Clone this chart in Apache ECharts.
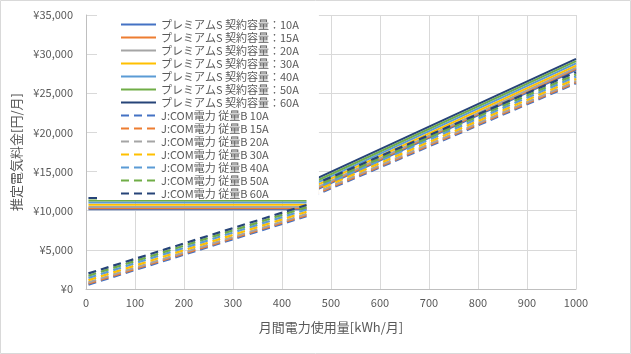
<!DOCTYPE html>
<html><head><meta charset="utf-8">
<script src="https://cdn.jsdelivr.net/npm/echarts@6/dist/echarts.min.js"></script>
<style>html,body{margin:0;padding:0;background:#fff}#c{width:631px;height:354px}</style>
</head><body><div id="c"></div>
<script>
// x positions (kWh) of the points: first segment, break, second segment
const xPoints = [5, 450, 455, 460, 1000];
const amps = ['10A', '15A', '20A', '30A', '40A', '50A', '60A'];
const xTicks = [0, 100, 200, 300, 400, 500, 600, 700, 800, 900, 1000];
const yTicks = [0, 5000, 10000, 15000, 20000, 25000, 30000, 35000];

// プレミアムS (yen/month) at xPoints (null = gap)
const premium10A = [10180, 10180, null, 12370, 27970];
const premium15A = [10320, 10320, null, 12510, 28110];
const premium20A = [10470, 10470, null, 12660, 28260];
const premium30A = [10750, 10750, null, 12940, 28540];
const premium40A = [11040, 11040, null, 13230, 28830];
const premium50A = [11320, 11320, null, 13510, 29110];
const premium60A = [11610, 11610, null, 13800, 29400];

// J:COM電力 従量B (yen/month) at xPoints
const jcom10A = [560, 9300, null, 11770, 26270];
const jcom15A = [700, 9440, null, 11910, 26410];
const jcom20A = [850, 9590, null, 12060, 26560];
const jcom30A = [1130, 9870, null, 12340, 26840];
const jcom40A = [1420, 10160, null, 12630, 27130];
const jcom50A = [1700, 10440, null, 12910, 27410];
const jcom60A = [1990, 10730, null, 13200, 27700];

const colors = ['#4472C4', '#ED7D31', '#A5A5A5', '#FFC000', '#5B9BD5', '#70AD47', '#264478'];
const premiumSets = [premium10A, premium15A, premium20A, premium30A, premium40A, premium50A, premium60A];
const jcomSets = [jcom10A, jcom15A, jcom20A, jcom30A, jcom40A, jcom50A, jcom60A];

function toData(vals) {
  return xPoints.map((x, i) => [x, vals[i] === null ? '-' : vals[i]]);
}

const series = [];
amps.forEach((a, i) => {
  series.push({
    name: 'プレミアムS 契約容量：' + a, type: 'line', data: toData(premiumSets[i]),
    symbol: 'none', connectNulls: false, color: colors[i],
    lineStyle: { width: 2, color: colors[i] }, emphasis: { disabled: true }
  });
});
amps.forEach((a, i) => {
  series.push({
    name: 'J:COM電力 従量B ' + a, type: 'line', data: toData(jcomSets[i]),
    symbol: 'none', connectNulls: false, color: colors[i],
    lineStyle: { width: 2.2, color: colors[i], type: [8, 5] }, emphasis: { disabled: true }
  });
});

const font = '"Noto Sans CJK JP", "Noto Sans", sans-serif';
const chart = echarts.init(document.getElementById('c'), null, { renderer: 'canvas' });
chart.setOption({
  animation: false,
  textStyle: { fontFamily: font },
  grid: { left: 86, right: 55, top: 15, bottom: 65, containLabel: false },
  graphic: [{ type: 'rect', shape: { x: 0.5, y: 0.5, width: 630, height: 353 },
    style: { fill: 'none', stroke: '#d9d9d9', lineWidth: 1 }, silent: true, z: 100 }],
  legend: {
    orient: 'vertical', left: 97, top: 15, padding: [3, 20, 0, 23],
    backgroundColor: '#ffffff', itemWidth: 35, itemHeight: 13, itemGap: 0,
    itemStyle: { opacity: 0 },
    textStyle: { fontFamily: font, fontSize: 11, color: '#595959', lineHeight: 13 },
    data: series.map(s => s.name)
  },
  xAxis: {
    type: 'value', min: xTicks[0], max: xTicks[xTicks.length - 1], interval: 100,
    name: '月間電力使用量[kWh/月]', nameLocation: 'middle', nameGap: 32,
    nameTextStyle: { fontFamily: font, fontSize: 13, color: '#595959' },
    axisLine: { show: true, lineStyle: { color: '#bfbfbf', width: 1 } },
    axisTick: { show: false },
    axisLabel: { color: '#595959', fontSize: 11, margin: 8, fontFamily: font,
      formatter: v => String(v) },
    splitLine: { show: true, lineStyle: { color: '#d9d9d9', width: 1 } }
  },
  yAxis: {
    type: 'value', min: yTicks[0], max: yTicks[yTicks.length - 1], interval: 5000,
    name: '推定電気料金[円/月]', nameLocation: 'middle', nameGap: 54, nameRotate: 90,
    nameTextStyle: { fontFamily: font, fontSize: 13, color: '#595959' },
    axisLine: { show: true, lineStyle: { color: '#bfbfbf', width: 1 } },
    axisTick: { show: false },
    axisLabel: { color: '#595959', fontSize: 11, margin: 13, fontFamily: font,
      formatter: v => '¥' + v.toLocaleString('en-US') },
    splitLine: { show: true, lineStyle: { color: '#d9d9d9', width: 1 } }
  },
  series: series
});
</script></body></html>
